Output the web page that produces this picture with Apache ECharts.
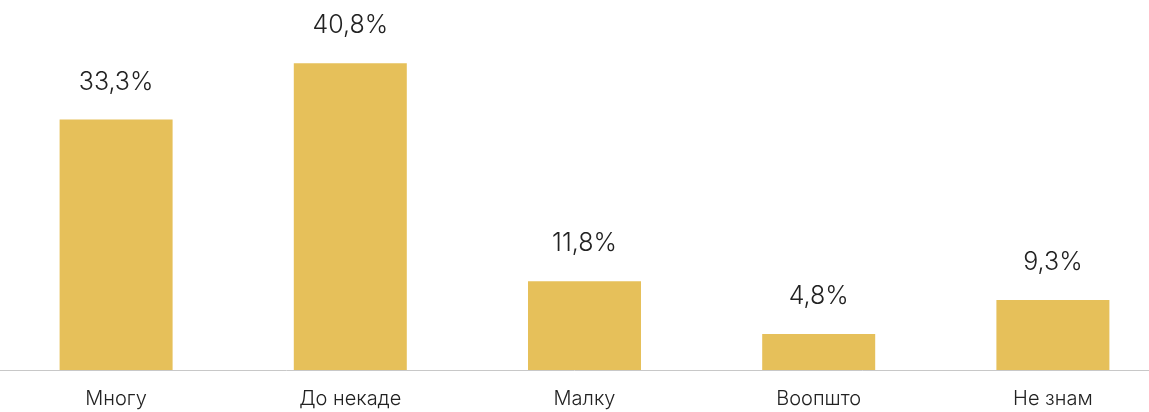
<!DOCTYPE html>
<html>
<head>
<meta charset="utf-8">
<script src="https://cdn.jsdelivr.net/npm/echarts@6/dist/echarts.min.js"></script>
<style>
html,body{margin:0;padding:0;background:#fff;}
#c{width:1149px;height:412px;}
</style>
</head>
<body>
<div id="c"></div>
<script>
const categories = ['Многу', 'До некаде', 'Малку', 'Воопшто', 'Не знам'];
const values = [33.3, 40.8, 11.8, 4.8, 9.3];

const chart = echarts.init(document.getElementById('c'), null, {renderer: 'canvas'});
chart.setOption({
  animation: false,
  grid: {left: -1, top: 31.6, right: -21, bottom: 42, containLabel: false, outerBoundsMode: 'none'},
  xAxis: {
    type: 'category',
    data: categories,
    axisLine: {show: true, lineStyle: {color: '#c8c8c8', width: 1}},
    axisTick: {show: false},
    axisLabel: {
      color: '#222',
      fontFamily: 'Inter',
      fontWeight: 300,
      fontSize: 20,
      margin: 19
    }
  },
  yAxis: {
    type: 'value',
    min: 0,
    max: 45,
    show: false,
    splitLine: {show: false}
  },
  series: [{
    type: 'bar',
    data: values,
    barWidth: 113,
    itemStyle: {color: '#E6C05A'},
    label: {
      show: true,
      position: 'top',
      distance: 25,
      color: '#222',
      fontFamily: 'Inter',
      fontWeight: 300,
      fontSize: 25,
      formatter: p => String(p.value).replace('.', ',') + '%'
    }
  }]
});
</script>
</body>
</html>
